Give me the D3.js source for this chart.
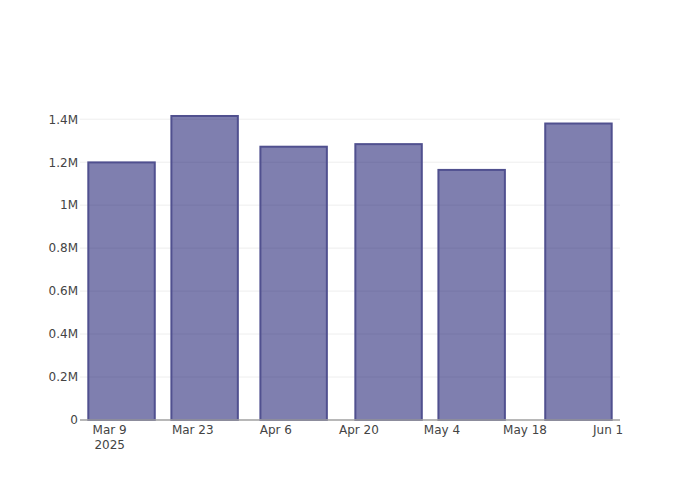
<!DOCTYPE html>
<html><head><meta charset="utf-8">
<script src="https://cdn.jsdelivr.net/npm/d3@7"></script>
<style>body{margin:0;background:#fff}svg{display:block}text{font-family:"DejaVu Sans",sans-serif;font-size:12px;fill:#444}</style>
</head><body>
<svg id="c" width="700" height="500"></svg>
<script>
const dates = ["2025-03-11","2025-03-25","2025-04-09","2025-04-25","2025-05-09","2025-05-27"];
const values = [1199000, 1415000, 1272000, 1284000, 1164000, 1380000];
const yTicks = [0, 200000, 400000, 600000, 800000, 1000000, 1200000, 1400000];
const yTickLabels = ["0","0.2M","0.4M","0.6M","0.8M","1M","1.2M","1.4M"];
const xTickDates = ["2025-03-09","2025-03-23","2025-04-06","2025-04-20","2025-05-04","2025-05-18","2025-06-01"];

const parse = d3.utcParse("%Y-%m-%d");
const ds = dates.map(parse);
const minGap = d3.min(d3.pairs(ds), p => p[1] - p[0]);
const m = {l:80, r:80, t:100, b:80}, W = 700, H = 500;
const svg = d3.select("#c");
const x = d3.scaleUtc()
  .domain([new Date(+ds[0] - minGap/2), new Date(+ds[ds.length-1] + minGap/2)])
  .range([m.l, W - m.r]);
const y = d3.scaleLinear().domain([0, d3.max(values) * 1.0526]).range([H - m.b, m.t]);

// gridlines
svg.append("g").selectAll("line").data(yTicks.slice(1)).join("line")
  .attr("x1", m.l).attr("x2", W - m.r)
  .attr("y1", d => y(d)).attr("y2", d => y(d))
  .attr("stroke", "#eee").attr("stroke-width", 1);

// bars
const bw = x(new Date(+ds[0] + minGap*0.8)) - x(ds[0]);
svg.append("g").selectAll("rect").data(values).join("rect")
  .attr("x", (d,i) => x(ds[i]) - bw/2)
  .attr("width", bw)
  .attr("y", d => y(d))
  .attr("height", d => y(0) - y(d))
  .attr("fill", "rgba(0,0,96,0.5)")
  .attr("stroke", "#50508f")
  .attr("stroke-width", 2);

// x axis line
svg.append("line").attr("x1", m.l).attr("x2", W - m.r)
  .attr("y1", y(0)).attr("y2", y(0)).attr("stroke", "#a0a0a0").attr("stroke-width", 1.3);

// y tick labels
svg.append("g").selectAll("text").data(yTicks).join("text")
  .attr("x", m.l - 2).attr("y", d => y(d)).attr("dy", "0.36em")
  .attr("text-anchor", "end").text((d,i) => yTickLabels[i]);

// x tick labels
const fmt = d3.utcFormat("%b %-d");
const xt = svg.append("g").selectAll("text").data(xTickDates.map(parse)).join("text")
  .attr("x", d => x(d)).attr("y", y(0) + 13.5).attr("text-anchor", "middle");
xt.append("tspan").text(d => fmt(d));
xt.filter((d,i) => i === 0).append("tspan")
  .attr("x", d => x(d)).attr("dy", 15).text(d => d3.utcFormat("%Y")(d));
</script>
</body></html>
